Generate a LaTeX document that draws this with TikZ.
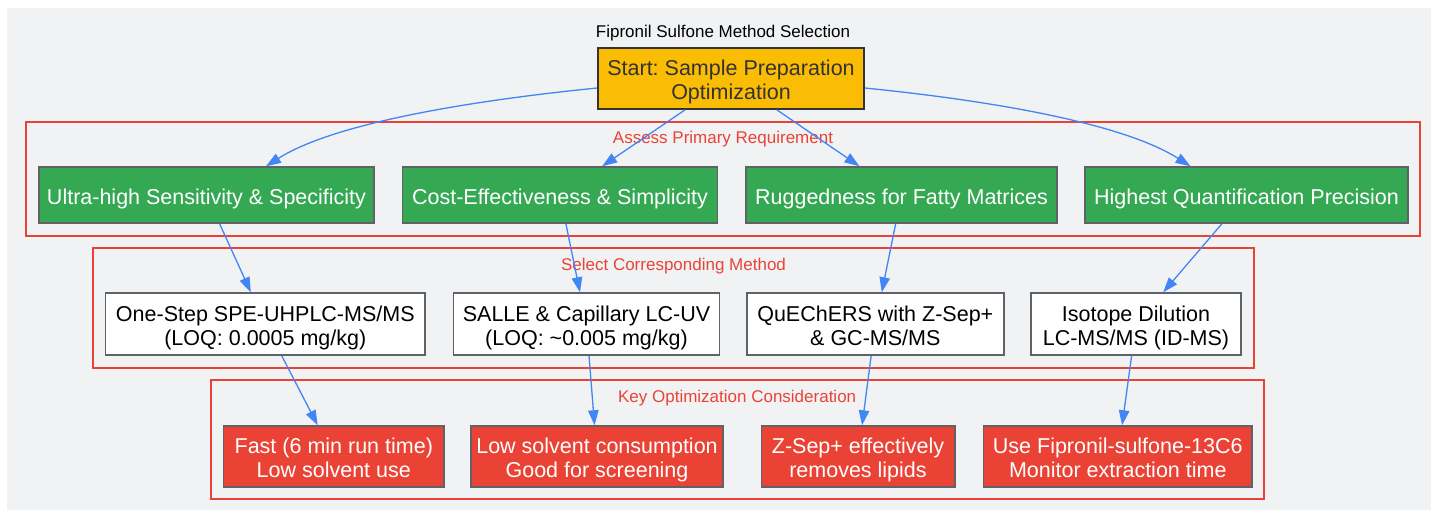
\documentclass[tikz,border=0pt]{standalone}
\usepackage{fontspec}
\setmainfont{Liberation Sans}
\frenchspacing
\usetikzlibrary{arrows.meta,calc}
\definecolor{bg}{HTML}{F1F2F4}
\definecolor{gyellow}{HTML}{FBBC04}
\definecolor{ggreen}{HTML}{34A853}
\definecolor{gred}{HTML}{EA4335}
\definecolor{gblue}{HTML}{4285F4}
\definecolor{gborder}{HTML}{5F6368}
\definecolor{gdark}{HTML}{333333}
\newcommand\hst{\rule{0pt}{24pt}}
\newcommand\dst{\rule[-5.5pt]{0pt}{5.5pt}}
\begin{document}
\begin{tikzpicture}[x=1pt,y=-1pt,
 box/.style={draw=gborder, line width=1.5pt, inner sep=0pt, align=center, font=\fontsize{21.5}{24}\selectfont},
 startbox/.style={box, draw=gdark, fill=gyellow, text=gdark, minimum height=61pt},
 greenbox/.style={box, fill=ggreen, text=white, minimum height=56pt},
 whitebox/.style={box, fill=white, text=black, minimum height=62pt},
 redbox/.style={box, fill=gred, text=white, minimum height=61pt},
 cluster/.style={draw=gred, line width=1.7pt, inner sep=0pt},
 clabel/.style={text=gred, font=\fontsize{17}{20}\selectfont, inner sep=0pt, anchor=base},
 ttl/.style={text=black, font=\fontsize{17}{20}\selectfont, inner sep=0pt, anchor=base},
 arrowline/.style={draw=gblue, line width=1.3pt, -{Triangle[length=15pt,width=10.5pt]}},
]
\useasboundingbox (0,0) rectangle (1431,511);
\fill[bg] (7,8) rectangle (1431,510);

% title
\node[ttl] (title) at (723,37.3) {Fipronil Sulfone Method Selection};

% clusters
\node[cluster, minimum width=1394pt, minimum height=114pt] (c1) at (723,179) {};
\node[clabel] (c1l) at ($(c1.north)+(0,22)$) {Assess Primary Requirement};
\node[cluster, minimum width=1161pt, minimum height=120pt] (c2) at (673.5,307.7) {};
\node[clabel] (c2l) at ($(c2.north)+(0,24)$) {Select Corresponding Method};
\node[cluster, minimum width=1053pt, minimum height=119.3pt] (c3) at (737.15,439.65) {};
\node[clabel] (c3l) at ($(c3.north)+(0,23.3)$) {Key Optimization Consideration};

% start
\node[startbox, minimum width=266pt] (start) at (731,78.5) {\hst Start: Sample Preparation\\Optimization\dst};

% requirements
\node[greenbox, minimum width=335pt] (n1) at (206.5,195) {\hst Ultra-high Sensitivity \& Specificity\dst};
\node[greenbox, minimum width=315pt] (n2) at (560,195) {\hst Cost-Effectiveness \& Simplicity\dst};
\node[greenbox, minimum width=311pt] (n3) at (901.5,195) {\hst Ruggedness for Fatty Matrices\dst};
\node[greenbox, minimum width=323pt] (n4) at (1246.5,195) {\hst Highest Quantification Precision\dst};

% methods
\node[whitebox, minimum width=319.4pt] (m1) at (265.3,324) {\hst One-Step SPE-UHPLC-MS/MS\\(LOQ: 0.0005 mg/kg)\dst};
\node[whitebox, minimum width=266pt] (m2) at (586.5,324) {\hst SALLE \& Capillary LC-UV\\(LOQ: \textasciitilde0.005 mg/kg)\dst};
\node[whitebox, minimum width=257pt] (m3) at (875.3,324) {\hst QuEChERS with Z-Sep+\\\& GC-MS/MS\dst};
\node[whitebox, minimum width=210pt] (m4) at (1136,324) {\hst Isotope Dilution\\LC-MS/MS (ID-MS)\dst};

% considerations
\node[redbox, minimum width=220.4pt] (r1) at (333.8,456.5) {\hst Fast (6 min run time)\\Low solvent use\dst};
\node[redbox, minimum width=252pt] (r2) at (597,456.5) {\hst Low solvent consumption\\Good for screening\dst};
\node[redbox, minimum width=193.5pt] (r3) at (858,456.5) {\hst Z-Sep+ effectively\\removes lipids\dst};
\node[redbox, minimum width=268.4pt] (r4) at (1117.8,456.5) {\hst Use Fipronil-sulfone-13C6\\Monitor extraction time\dst};

% edges
\draw[arrowline] ([yshift=-9.5pt]start.west) .. controls +(-100,10) and +(74,-47) .. ([xshift=59.5pt]n1.north);
\draw[arrowline] (start) -- (n2);
\draw[arrowline] (start) -- (n3);
\draw[arrowline] ([yshift=-9.5pt]start.east) .. controls +(100,10) and +(-74,-47) .. ([xshift=-56pt]n4.north);

\draw[arrowline] (n1) -- (m1);
\draw[arrowline] (n2) -- (m2);
\draw[arrowline] (n3) -- (m3);
\draw[arrowline] (n4) -- (m4);

\draw[arrowline] (m1) -- (r1);
\draw[arrowline] (m2) -- (r2);
\draw[arrowline] (m3) -- (r3);
\draw[arrowline] (m4) -- (r4);
\end{tikzpicture}
\end{document}
